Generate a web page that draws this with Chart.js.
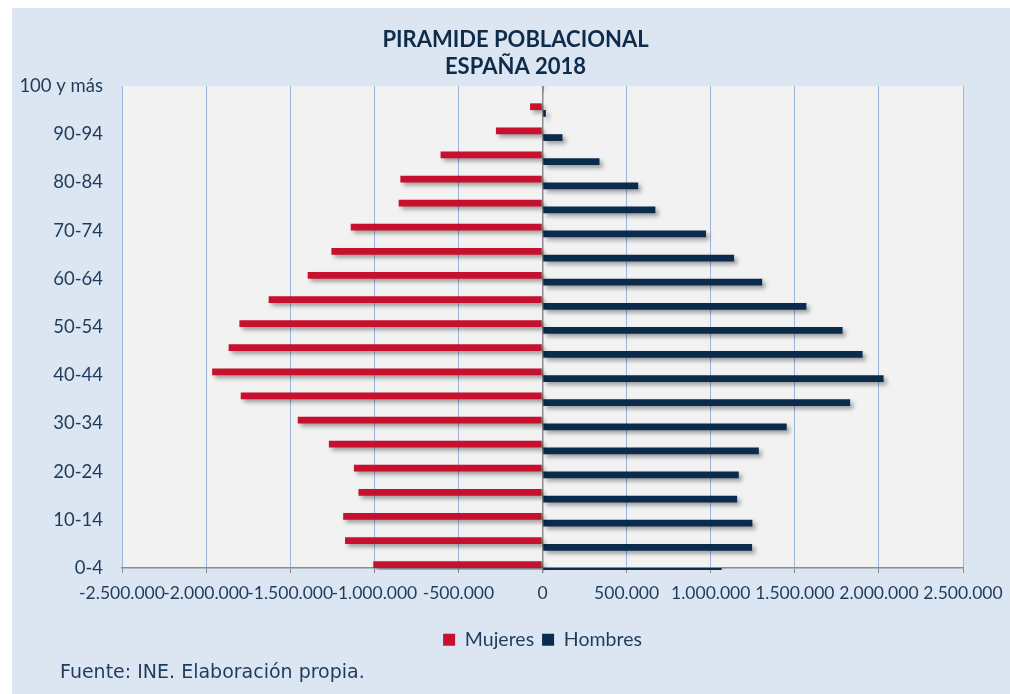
<!DOCTYPE html>
<html>
<head>
<meta charset="utf-8">
<script src="https://cdn.jsdelivr.net/npm/chart.js@4.4.1/dist/chart.umd.min.js"></script>
<style>
  body { margin: 0; background: #fff; }
  .wrap { position: relative; width: 1010px; height: 694px; }
  .fuente { position: absolute; left: 60px; top: 660px; font: 19px "DejaVu Sans", sans-serif; color: #1F3B5C; white-space: nowrap; }
</style>
</head>
<body>
<div class="wrap">
  <canvas id="piramide" width="1010" height="694"></canvas>
  <div class="fuente">Fuente: INE. Elaboración propia.</div>
</div>
<script>
// grupos de edad, de abajo a arriba
const edades = ['0-4', '5-9', '10-14', '15-19', '20-24', '25-29', '30-34', '35-39', '40-44', '45-49',
  '50-54', '55-59', '60-64', '65-69', '70-74', '75-79', '80-84', '85-89', '90-94', '95-99', '100 y más'];

// mujeres en negativo para que salgan a la izquierda
const mujeres = [-1006000, -1174000, -1185000, -1094000, -1121000, -1270000, -1455000, -1794000, -1964000, -1866000,
  -1802000, -1628000, -1396000, -1255000, -1140000, -855000, -845000, -606000, -277000, -74000, -9000];
const hombres = [1065000, 1246000, 1248000, 1157000, 1167000, 1286000, 1452000, 1829000, 2028000, 1903000,
  1784000, 1569000, 1306000, 1139000, 972000, 671000, 569000, 339000, 119000, 20000, 3000];

const ticksX = [-2500000, -2000000, -1500000, -1000000, -500000, 0, 500000, 1000000, 1500000, 2000000, 2500000];

const azulTexto = '#1F3B5C';
const rejilla = '#9BB5D9';
const gris = '#8C8C8C';

function miles(v) {
  return v.toString().replace(/\B(?=(\d{3})+(?!\d))/g, '.');
}

Chart.defaults.font.family = 'Lato';

const fondo = {
  id: 'fondo',
  afterLayout(chart) {
    // el titulo en el original va un poco a la derecha del centro
    const t = chart.titleBlock;
    if (t) { t.left += 28; t.right += 28; }
  },
  beforeDraw(chart) {
    const { ctx, chartArea: a } = chart;
    ctx.save();
    ctx.fillStyle = '#fff';
    ctx.fillRect(0, 0, chart.width, chart.height);
    ctx.fillStyle = '#DCE6F2';
    ctx.fillRect(12, 8, chart.width - 12, chart.height - 8);
    ctx.fillStyle = '#F2F2F2';
    ctx.fillRect(a.left, a.top, a.right - a.left, a.bottom - a.top);
    ctx.restore();
  }
};

// sombra de las barras como en excel
const sombra = {
  id: 'sombra',
  beforeDatasetsDraw(chart) {
    const ctx = chart.ctx;
    ctx.save();
    ctx.shadowColor = 'rgba(0,0,0,0.35)';
    ctx.shadowBlur = 4;
    ctx.shadowOffsetX = 3;
    ctx.shadowOffsetY = 3;
  },
  afterDatasetsDraw(chart) {
    chart.ctx.restore();
  }
};

const recorte = { left: false, right: false, top: 0, bottom: 2 };

new Chart(document.getElementById('piramide'), {
  type: 'bar',
  data: {
    labels: edades,
    datasets: [
      { label: 'Mujeres', data: mujeres, backgroundColor: '#C70F2E', clip: recorte },
      { label: 'Hombres', data: hombres, backgroundColor: '#0A2B4B', clip: recorte }
    ]
  },
  options: {
    indexAxis: 'y',
    responsive: false,
    animation: false,
    devicePixelRatio: 1,
    categoryPercentage: 0.56,
    barPercentage: 1,
    layout: { padding: { left: 12, top: 8, right: 47, bottom: 34.5 } },
    plugins: {
      title: {
        display: true,
        text: ['PIRAMIDE POBLACIONAL', 'ESPAÑA 2018'],
        color: '#0F2B4A',
        font: { size: 22, weight: 'bold', lineHeight: 27 / 22 },
        padding: { top: 18, bottom: 6 }
      },
      legend: {
        position: 'bottom',
        fullSize: false,
        labels: { color: azulTexto, font: { size: 19.5 }, boxWidth: 12, boxHeight: 12, padding: 8 }
      },
      tooltip: { enabled: false }
    },
    scales: {
      x: {
        min: -2500000,
        max: 2500000,
        afterBuildTicks: s => { s.ticks = ticksX.map(v => ({ value: v })); },
        afterFit: s => { s.height = 54; s.paddingLeft = 0; s.paddingRight = 0; },
        ticks: {
          autoSkip: false, maxRotation: 0, minRotation: 0,
          color: azulTexto, font: { size: 17.5 }, padding: 10,
          callback: v => miles(v)
        },
        grid: {
          color: c => (c.tick && c.tick.value === 0 ? gris : rejilla),
          lineWidth: c => (c.tick && c.tick.value === 0 ? 1.5 : 1),
          tickColor: gris,
          tickLength: 5
        },
        border: { display: true, color: gris, width: 1.5 }
      },
      y: {
        reverse: true,
        offset: false,
        afterFit: s => { s.width = 110; s.paddingTop = 0; s.paddingBottom = 0; },
        ticks: {
          autoSkip: false, color: azulTexto, font: { size: 18.5 }, padding: 19,
          callback: function (v, i) { return i % 2 === 0 ? this.getLabelForValue(v) : ''; }
        },
        grid: { display: false, drawTicks: false },
        border: { display: false }
      }
    }
  },
  plugins: [fondo, sombra]
});
</script>
</body>
</html>
